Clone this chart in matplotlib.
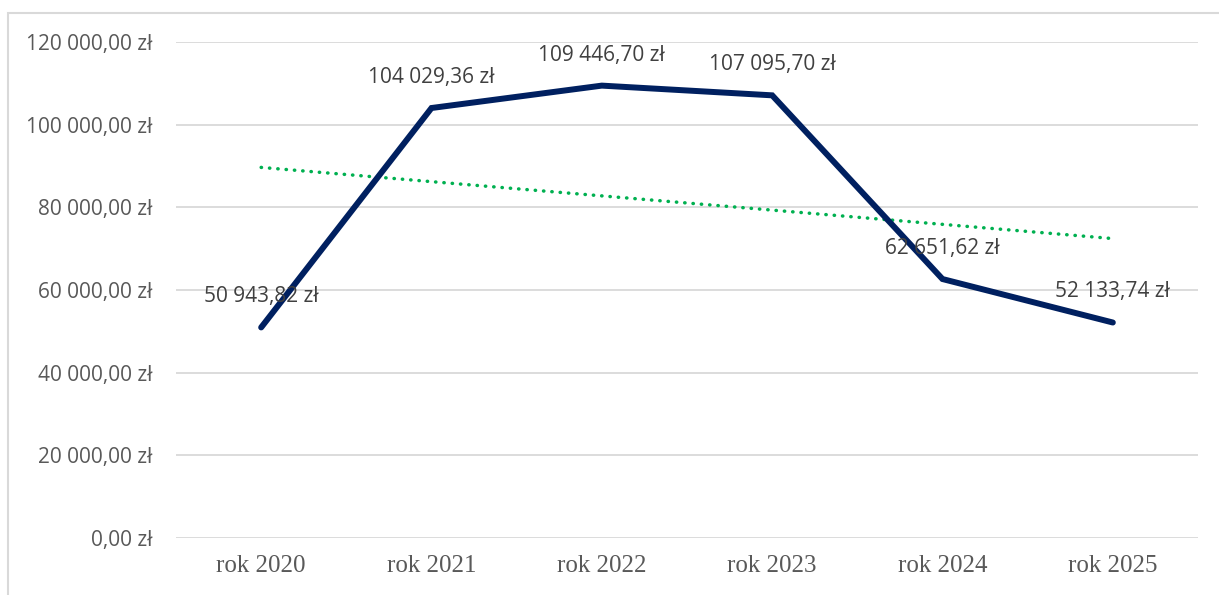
import matplotlib.pyplot as plt
import numpy as np
from matplotlib.patches import Rectangle
from matplotlib.ticker import FuncFormatter

plt.rcParams['font.family'] = ['Open Sans', 'DejaVu Sans']

lata = ['rok 2020', 'rok 2021', 'rok 2022', 'rok 2023', 'rok 2024', 'rok 2025']
kwoty = [50943.82, 104029.36, 109446.70, 107095.70, 62651.62, 52133.74]
y_ticks = [0, 20000, 40000, 60000, 80000, 100000, 120000]


def zl(v, pos=None):
    s = '{:,.2f}'.format(v).replace(',', ' ').replace('.', ',')
    return s + ' zł'


fig = plt.figure(figsize=(12.19, 5.95), dpi=100)
ax = fig.add_axes([176/1219, 1-538/595, (1198-176)/1219, (538-42)/595])

x = np.arange(len(lata))
# linia trendu (liniowa, jak w Excelu)
a, b = np.polyfit(x, kwoty, 1)
ax.plot(x, a*x + b, color='#00B050', linewidth=2.5, linestyle=(0, (0.1, 2.3)),
        dash_capstyle='round', zorder=3)
ax.plot(x, kwoty, color='#002060', linewidth=4.3, solid_capstyle='round',
        solid_joinstyle='miter', zorder=4)

for xi, v in zip(x, kwoty):
    ax.annotate(zl(v), (xi, v), xytext=(0, 22), textcoords='offset points',
                ha='center', va='center', fontsize=15, color='#404040', zorder=5)

ax.set_xlim(-0.5, 5.5)
ax.set_ylim(0, 120000)
ax.set_yticks(y_ticks)
ax.yaxis.set_major_formatter(FuncFormatter(zl))
ax.set_xticks(x)
ax.set_xticklabels(lata, family=['Liberation Serif'], fontsize=18, color='#595959')
ax.tick_params(axis='y', length=0, pad=17, labelsize=15, labelcolor='#595959')
ax.tick_params(axis='x', length=0, pad=12)
ax.grid(axis='y', color='#d9d9d9', linewidth=1.3)
ax.set_axisbelow(True)
for s in ax.spines.values():
    s.set_visible(False)

# ramka obszaru wykresu
fig.patches.append(Rectangle((7.5/1219, -0.5), 2, 1.5 - 12.5/595, transform=fig.transFigure,
                             fill=False, edgecolor='#d9d9d9', linewidth=1.5))

fig.savefig('out.png', dpi=100)
